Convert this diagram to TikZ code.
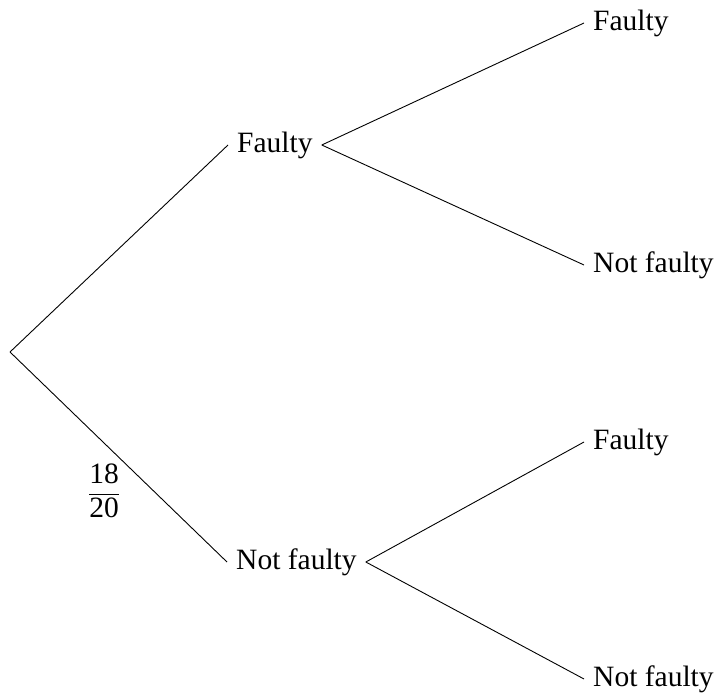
\documentclass[tikz,border=0pt]{standalone}
\usepackage{fontspec}
\setmainfont{Liberation Serif}
\begin{document}
\begin{tikzpicture}[x=1pt,y=-1pt,
  branch/.style={line width=0.9pt},
  outcome/.style={font=\fontsize{29.5}{35}\selectfont, inner xsep=9pt, inner ysep=0pt,
    text height=20pt, text depth=5.5pt, anchor=west}]
\useasboundingbox (0,0) rectangle (722,695);
% root of the tree
\coordinate (r) at (10,352);
% first stage
\node[outcome] (f)  at (228,145) {Faulty};
\node[outcome] (n)  at (227,562) {Not faulty};
% second stage
\node[outcome] (ff) at (584,23)  {Faulty};
\node[outcome] (fn) at (584,265) {Not faulty};
\node[outcome] (nf) at (584,442) {Faulty};
\node[outcome] (nn) at (584,679) {Not faulty};
% probability label
\node[font=\fontsize{29.5}{35}\selectfont, inner sep=0pt] (p) at (104,491)
  {$\displaystyle\frac{\mbox{18}}{\mbox{20}}$};
% branches
\draw[branch] (r) -- (f.west);
\draw[branch] (r) -- (n.west);
\draw[branch] (f.east) -- (ff.west);
\draw[branch] (f.east) -- (fn.west);
\draw[branch] (n.east) -- (nf.west);
\draw[branch] (n.east) -- (nn.west);
\end{tikzpicture}
\end{document}
